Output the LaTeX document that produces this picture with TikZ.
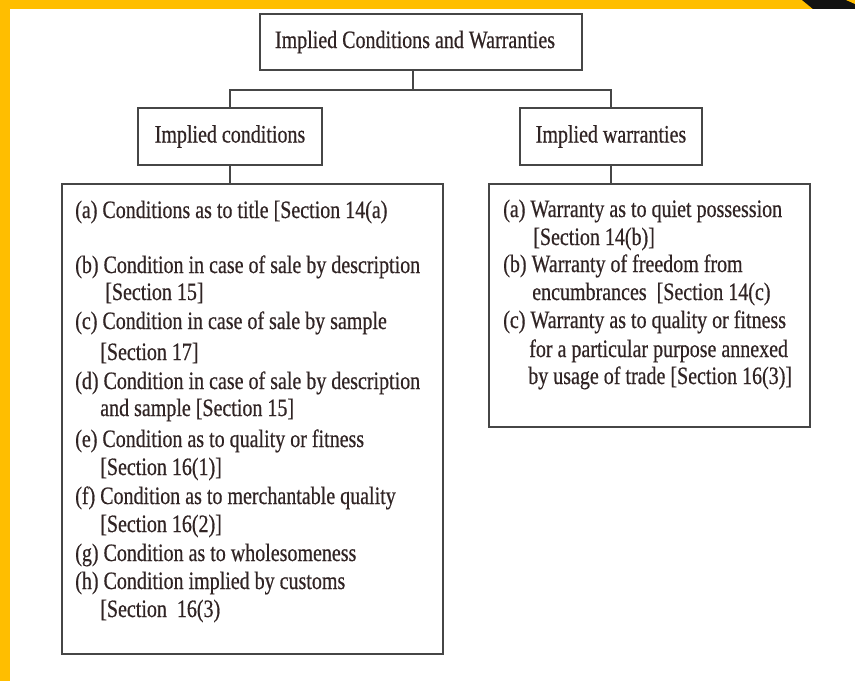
\documentclass[tikz,border=0pt]{standalone}
\usepackage{fontspec}
\setmainfont[FakeStretch=0.8,FakeBold=0.5]{Liberation Serif}
\definecolor{goldstrip}{RGB}{255,190,0}
\definecolor{txt}{RGB}{48,36,36}
\definecolor{edge}{RGB}{70,70,70}
\begin{document}
\begin{tikzpicture}[x=0.75pt,y=-0.75pt,
  font=\fontsize{18.75pt}{21pt}\selectfont,
  box/.style={draw=edge,line width=1.4pt,fill=white,inner sep=0pt,text=txt},
  ln/.style={anchor=base west,inner sep=0pt,text=txt},
  conn/.style={draw=edge,line width=1.4pt}]
\useasboundingbox (0,0) rectangle (855,681);
\fill[white] (0,0) rectangle (855,681);
% frame decorations
\fill[goldstrip] (0,0) rectangle (855,9);
\fill[goldstrip] (0,0) rectangle (10,681);
\fill[black!93] (802,0) -- (855,0) -- (855,9) -- (813,9) -- cycle;
\fill[goldstrip] (846,0) -- (855,0) -- (855,4) -- cycle;
% boxes
\node[box,minimum width=322*0.75pt,minimum height=56*0.75pt] (top) at (421,42) {Implied Conditions and Warranties\hspace*{9pt}};
\node[box,minimum width=184*0.75pt,minimum height=57*0.75pt] (ic) at (230,136.5) {Implied conditions};
\node[box,minimum width=182*0.75pt,minimum height=57*0.75pt] (iw) at (611,136.5) {Implied warranties};
\node[box,minimum width=381*0.75pt,minimum height=470*0.75pt] (lc) at (252.5,419) {};
\node[box,minimum width=321*0.75pt,minimum height=243*0.75pt] (rw) at (649.5,305.5) {};
% connectors
\coordinate (j) at (413,90);
\draw[conn] (top.south -| j) -- (j);
\draw[conn] (ic.north) |- (j) -| (iw.north);
\draw[conn] (ic.south) -- (ic.south |- lc.north);
\draw[conn] (iw.south) -- (iw.south |- rw.north);
% left list
\node[ln] (l1) at (75,218) {(a) Conditions as to title [Section 14(a)};
\node[ln] (l2) at (75,273) {(b) Condition in case of sale by description};
\node[ln] (l3) at (105,300) {[Section 15]};
\node[ln] (l4) at (75,329) {(c) Condition in case of sale by sample};
\node[ln] (l5) at (100,360) {[Section 17]};
\node[ln] (l6) at (75,389) {(d) Condition in case of sale by description};
\node[ln] (l7) at (100,416) {and sample [Section 15]};
\node[ln] (l8) at (75,447) {(e) Condition as to quality or fitness};
\node[ln] (l9) at (100,475) {[Section 16(1)]};
\node[ln] (l10) at (75,504) {(f) Condition as to merchantable quality};
\node[ln] (l11) at (100,532) {[Section 16(2)]};
\node[ln] (l12) at (75,561) {(g) Condition as to wholesomeness};
\node[ln] (l13) at (75,589) {(h) Condition implied by customs};
\node[ln] (l14) at (100,617) {[Section\ \ 16(3)};
% right list
\node[ln] (r1) at (503,217) {(a) Warranty as to quiet possession};
\node[ln] (r2) at (533,245) {[Section 14(b)]};
\node[ln] (r3) at (503,272) {(b) Warranty of freedom from};
\node[ln] (r4) at (532,300) {encumbrances\ \ [Section 14(c)};
\node[ln] (r5) at (503,328) {(c) Warranty as to quality or fitness};
\node[ln] (r6) at (529,357) {for a particular purpose annexed};
\node[ln] (r7) at (528,384) {by usage of trade [Section 16(3)]};
\end{tikzpicture}
\end{document}
